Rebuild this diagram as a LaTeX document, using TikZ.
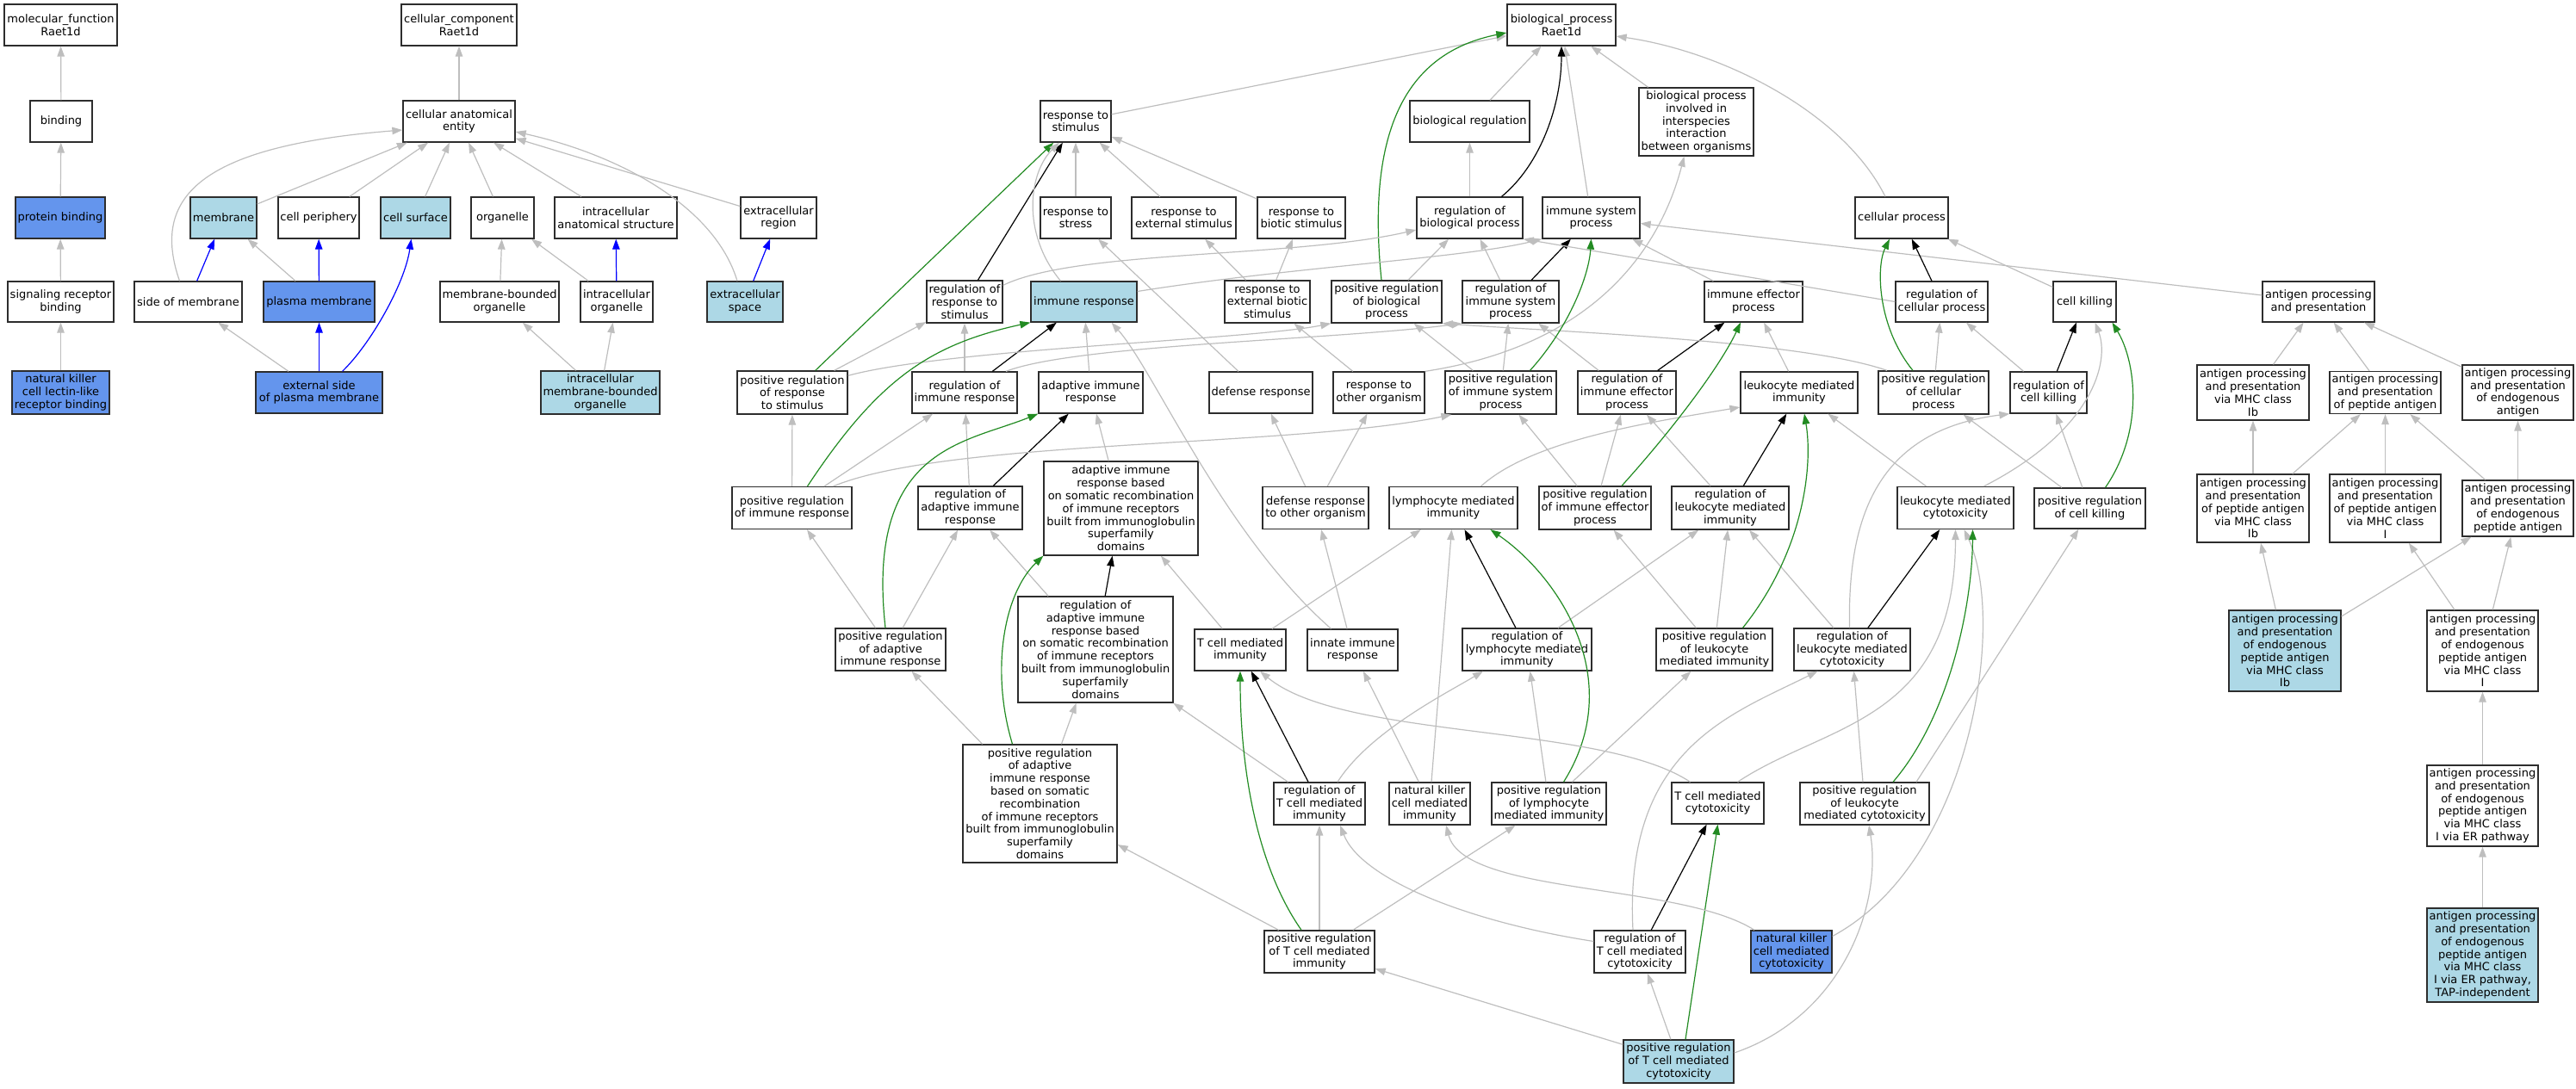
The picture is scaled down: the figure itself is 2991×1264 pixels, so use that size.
\documentclass[tikz,border=0pt]{standalone}
\usepackage{fontspec}
\setmainfont{DejaVu Sans}
\usepackage{tikz}
\definecolor{isacol}{RGB}{190,190,190}
\definecolor{posregcol}{RGB}{34,139,34}
\definecolor{termline}{RGB}{45,45,45}
\definecolor{annotlight}{RGB}{173,216,230}
\definecolor{annotstrong}{RGB}{100,149,237}
\usetikzlibrary{arrows.meta}
\tikzset{
	>={Triangle[length=12pt,width=8.5pt]},
	term/.style={draw=termline, line width=1.3pt, fill=white, inner sep=0pt, align=center, font=\fontsize{13}{14.8}\selectfont},
	termlight/.style={term, fill=annotlight},
	termstrong/.style={term, fill=annotstrong},
	isa/.style={->, draw=isacol, line width=1.2pt},
	partof/.style={->, draw=blue, line width=1.2pt},
	regulates/.style={->, draw=black, line width=1.2pt},
	posreg/.style={->, draw=posregcol, line width=1.2pt}
}

\begin{document}
\begin{tikzpicture}[x=1pt, y=-1pt]
	\useasboundingbox (0,0) rectangle (2991,1264);
	\foreach \n/\x/\y/\w/\h/\t in {
		mf/70.5/29/131/48/{molecular\_function\\Raet1d},
		cc/533/29/134/48/{cellular\_component\\Raet1d},
		bp/1813/29/126/48/{biological\_process\\Raet1d},
		binding/71/141/72/48/{binding},
		cae/533/141/130/48/{cellular anatomical\\entity},
		rts/1249/141/82/48/{response to\\stimulus},
		breg/1706.5/141/139/48/{biological regulation},
		bpii/1969.5/141.5/133/79/{biological process\\involved in\\interspecies\\interaction\\between organisms},
		cper/370/253/94/48/{cell periphery},
		org/583.5/253/73/48/{organelle},
		ias/715/253/142/48/{intracellular\\anatomical structure},
		ecr/904/253/88/48/{extracellular\\region},
		rstress/1249/253/82/48/{response to\\stress},
		rext/1374.5/253/121/48/{response to\\external stimulus},
		rbio/1511/253/102/48/{response to\\biotic stimulus},
		rbp/1706.5/253/123/48/{regulation of\\biological process},
		isp/1847.5/253/113/48/{immune system\\process},
		cp/2208/253/108/48/{cellular process},
		srb/70.5/350.5/123/47/{signaling receptor\\binding},
		som/218.5/350.5/125/47/{side of membrane},
		mbo/580/350.5/138/47/{membrane-bounded\\organelle},
		io/716/350.5/84/47/{intracellular\\organelle},
		rrts/1120/350.5/88/49/{regulation of\\response to\\stimulus},
		rebs/1471.5/350.5/99/49/{response to\\external biotic\\stimulus},
		prbp/1610/350.5/128/49/{positive regulation\\of biological\\process},
		risp/1754/350.5/112/49/{regulation of\\immune system\\process},
		ier/2036/350.5/114/47/{immune effector\\process},
		rcp/2254.5/350.5/107/47/{regulation of\\cellular process},
		ck/2420.5/350.5/73/47/{cell killing},
		apap/2692/350.5/130/47/{antigen processing\\and presentation},
		prrts/920/456/128/50/{positive regulation\\of response\\to stimulus},
		rir/1120/456/122/48/{regulation of\\immune response},
		air/1266.5/456/121/48/{adaptive immune\\response},
		dr/1464/456/120/48/{defense response},
		rtoo/1601/456/106/48/{response to\\other organism},
		prisp/1742.5/456/129/50/{positive regulation\\of immune system\\process},
		rier/1889/456/114/50/{regulation of\\immune effector\\process},
		lkmi/2089/456/136/48/{leukocyte mediated\\immunity},
		prcp/2245/456/128/50/{positive regulation\\of cellular\\process},
		rck/2378.5/456/89/48/{regulation of\\cell killing},
		apapIb/2616/456/130/64/{antigen processing\\and presentation\\via MHC class\\Ib},
		apappep/2769.5/456/129/49/{antigen processing\\and presentation\\of peptide antigen},
		apapendo/2923.5/456/129/64/{antigen processing\\and presentation\\of endogenous\\antigen},
		prir/919.5/590/139/49/{positive regulation\\of immune response},
		rair/1126.5/590/121/50/{regulation of\\adaptive immune\\response},
		aircs/1301.5/590.5/179/109/{adaptive immune\\response based\\on somatic recombination\\of immune receptors\\built from immunoglobulin\\superfamily\\domains},
		drtoo/1527.5/590/123/49/{defense response\\to other organism},
		lymi/1687.5/590/149/49/{lymphocyte mediated\\immunity},
		prier/1852/590/130/50/{positive regulation\\of immune effector\\process},
		rlkmi/2009/590/136/50/{regulation of\\leukocyte mediated\\immunity},
		lmc/2270.5/590/135/49/{leukocyte mediated\\cytotoxicity},
		prck/2426.5/590.5/129/47/{positive regulation\\of cell killing},
		apappepIb/2616/590.5/130/79/{antigen processing\\and presentation\\of peptide antigen\\via MHC class\\Ib},
		apappepI/2769.5/590.5/129/79/{antigen processing\\and presentation\\of peptide antigen\\via MHC class\\I},
		apapendopep/2923.5/590.5/129/65/{antigen processing\\and presentation\\of endogenous\\peptide antigen},
		prair/1034/754.5/128/49/{positive regulation\\of adaptive\\immune response},
		raircs/1272/754.5/180/123/{regulation of\\adaptive immune\\response based\\on somatic recombination\\of immune receptors\\built from immunoglobulin\\superfamily\\domains},
		tcmi/1440/755/106/48/{T cell mediated\\immunity},
		innate/1570.5/755/105/48/{innate immune\\response},
		rlymi/1773/754.5/150/49/{regulation of\\lymphocyte mediated\\immunity},
		prlkmi/1990.5/754.5/135/49/{positive regulation\\of leukocyte\\mediated immunity},
		rlmc/2150.5/754.5/135/49/{regulation of\\leukocyte mediated\\cytotoxicity},
		apapendoI/2882.5/756/129/94/{antigen processing\\and presentation\\of endogenous\\peptide antigen\\via MHC class\\I},
		praircs/1207.5/933.5/179/137/{positive regulation\\of adaptive\\immune response\\based on somatic\\recombination\\of immune receptors\\built from immunoglobulin\\superfamily\\domains},
		rtcmi/1532/933.5/106/49/{regulation of\\T cell mediated\\immunity},
		nkcmi/1660/933.5/94/49/{natural killer\\cell mediated\\immunity},
		prlymi/1798.5/933.5/133/49/{positive regulation\\of lymphocyte\\mediated immunity},
		tcmc/1994.5/933/107/48/{T cell mediated\\cytotoxicity},
		prlmc/2165/933.5/150/49/{positive regulation\\of leukocyte\\mediated cytotoxicity},
		er/2882.5/936/129/94/{antigen processing\\and presentation\\of endogenous\\peptide antigen\\via MHC class\\I via ER pathway},
		prtcmi/1532/1105.5/128/49/{positive regulation\\of T cell mediated\\immunity},
		rtcmc/1904/1105.5/106/49/{regulation of\\T cell mediated\\cytotoxicity}} {
		\node[term, minimum width=\w, minimum height=\h] (\n) at (\x,\y) {\t};
	}
	\foreach \n/\x/\y/\w/\h/\t in {
		mem/259.5/253/77/48/{membrane},
		csurf/482.5/253/81/48/{cell surface},
		ecs/865/350.5/88/47/{extracellular\\space},
		ir/1258.5/350.5/123/47/{immune response},
		imbo/697/456/138/50/{intracellular\\membrane-bounded\\organelle},
		apapendoIb/2653/756/130/94/{antigen processing\\and presentation\\of endogenous\\peptide antigen\\via MHC class\\Ib},
		tap/2882.5/1109.5/129/109/{antigen processing\\and presentation\\of endogenous\\peptide antigen\\via MHC class\\I via ER pathway,\\TAP-independent},
		prtcmc/1949/1233/128/50/{positive regulation\\of T cell mediated\\cytotoxicity}} {
		\node[termlight, minimum width=\w, minimum height=\h] (\n) at (\x,\y) {\t};
	}
	\foreach \n/\x/\y/\w/\h/\t in {
		pb/70/253/104/48/{protein binding},
		pm/370.5/350.5/129/47/{plasma membrane},
		nkl/70.5/456/113/50/{natural killer\\cell lectin-like\\receptor binding},
		esopm/370.5/456/147/48/{external side\\of plasma membrane},
		nkcmc/2080/1105.5/94/49/{natural killer\\cell mediated\\cytotoxicity}} {
		\node[termstrong, minimum width=\w, minimum height=\h] (\n) at (\x,\y) {\t};
	}
	\foreach \a/\b in {binding/mf, pb/binding, srb/pb, nkl/srb,
		cae/cc, mem/cae, cper/cae, csurf/cae, org/cae, ias/cae, ecr/cae, pm/mem, esopm/som,
		mbo/org, io/org, imbo/mbo, imbo/io,
		rts/bp, breg/bp, isp/bp, bpii/bp, rbp/breg, rstress/rts, rext/rts, rbio/rts,
		rebs/rext, rebs/rbio, prbp/rbp, risp/rbp, ier/isp, ck/cp, apap/isp,
		prrts/rrts, rir/rrts, air/ir, dr/rstress, rtoo/rebs, prisp/risp, prisp/prbp, rier/risp,
		lkmi/ier, prcp/rcp, rck/rcp, apapIb/apap, apappep/apap, apapendo/apap,
		prir/prrts, prir/rir, rair/rir, aircs/air, drtoo/dr, drtoo/rtoo, prier/prisp, prier/rier,
		rlkmi/rier, lmc/lkmi, prck/rck, prck/prcp,
		apappepIb/apapIb, apappepIb/apappep, apappepI/apappep, apapendopep/apappep, apapendopep/apapendo,
		prair/prir, prair/rair, raircs/rair, tcmi/aircs, tcmi/lymi, innate/drtoo,
		rlymi/rlkmi, prlkmi/rlkmi, prlkmi/prier, rlmc/rlkmi,
		apapendoIb/apappepIb, apapendoIb/apapendopep, apapendoI/apappepI, apapendoI/apapendopep,
		praircs/prair, praircs/raircs, rtcmi/raircs, nkcmi/lymi, nkcmi/innate,
		prlymi/rlymi, prlymi/prlkmi, prlmc/rlmc, er/apapendoI, tap/er,
		prtcmi/praircs, prtcmi/rtcmi, prtcmi/prlymi, prtcmc/rtcmc, prtcmc/prtcmi} {
		\draw[isa] (\a) -- (\b);
	}
	\foreach \a/\b in {som/mem, pm/cper, esopm/pm, io/ias, ecs/ecr} {
		\draw[partof] (\a) -- (\b);
	}
	\foreach \a/\b in {rrts/rts, rir/ir, rair/air, raircs/aircs, risp/isp, rier/ier, rlkmi/lkmi,
		rcp/cp, rck/ck, rlymi/lymi, rlmc/lmc, rtcmi/tcmi, rtcmc/tcmc} {
		\draw[regulates] (\a) -- (\b);
	}
	\draw[posreg] (prrts) -- (rts);
	\draw[posreg] ([xshift=8]prtcmc.north) -- (tcmc.south);

	\draw[isa] ([xshift=-10]som.north) .. controls (175,230) and (230,170) .. ([yshift=-10]cae.west);
	\draw[isa] ([xshift=-9]ecs.north) .. controls (830,240) and (720,180) .. ([yshift=-12]cae.east);
	\draw[partof] ([xshift=27]esopm.north) .. controls (430,400) and (470,330) .. ([xshift=-5]csurf.south);
	\draw[posreg] ([xshift=-6]prbp.north) .. controls (1585,140) and (1640,60) .. ([yshift=-9]bp.west);
	\draw[regulates] ([xshift=37]rbp.north) .. controls (1790,190) and (1813,120) .. (bp.south);
	\draw[isa] ([xshift=-19]cp.north) .. controls (2140,130) and (2000,60) .. ([yshift=-13]bp.east);
	\draw[isa] ([yshift=-6]rrts.north east) .. controls (1250,290) and (1500,300) .. ([yshift=-14]rbp.west);
	\draw[isa] ([xshift=-27]ir.north) .. controls (1185,270) and (1195,200) .. ([xshift=-19]rts.south);
	\draw[isa] ([yshift=12]ir.east) .. controls (1500,310) and (1700,300) .. (isp.south west);
	\draw[isa] (rcp.west) -- (rbp.south east);
	\draw[posreg] ([xshift=-24]prcp.north) .. controls (2180,380) and (2178,310) .. ([xshift=-14]cp.south);
	\draw[isa] ([xshift=-54]prcp.north) .. controls (2090,395) and (1800,385) .. (prbp.south east);
	\draw[isa] ([xshift=48]rir.north) .. controls (1250,400) and (1550,395) .. (risp.south west);
	\draw[isa] ([yshift=-6]prrts.north east) .. controls (1100,405) and (1450,395) .. (prbp.south west);
	\draw[isa] (rtoo.north east) .. controls (1860,400) and (1930,280) .. ([xshift=-14]bpii.south);
	\draw[isa] ([xshift=-25]innate.north) .. controls (1420,620) and (1340,430) .. ([xshift=32]ir.south);
	\draw[isa] ([xshift=32]lymi.north) .. controls (1780,510) and (1920,490) .. ([yshift=-17]lkmi.west);
	\draw[isa] ([xshift=48]prir.north) .. controls (1100,510) and (1500,520) .. ([xshift=8]prisp.south west);
	\draw[posreg] ([xshift=33]prlkmi.north) .. controls (2095,640) and (2105,540) .. ([xshift=6]lkmi.south);
	\draw[posreg] ([xshift=17]prlymi.north) .. controls (1890,790) and (1810,670) .. ([xshift=43]lymi.south);
	\draw[isa] ([xshift=33]lmc.north) .. controls (2430,500) and (2450,420) .. ([xshift=12]ck.south);
	\draw[posreg] ([xshift=18]prck.north) .. controls (2490,500) and (2480,420) .. ([xshift=32]ck.south);
	\draw[isa] ([xshift=-3]rlmc.north) .. controls (2145,600) and (2180,500) .. (rck.south west);
	\draw[isa] ([yshift=18]nkcmc.east) .. controls (2290,1000) and (2330,720) .. ([xshift=10]lmc.south);
	\draw[isa] ([xshift=23]tcmc.north) .. controls (2120,840) and (2270,840) .. (lmc.south);
	\draw[isa] ([xshift=-8]rtcmc.north) .. controls (1885,870) and (2010,830) .. ([xshift=-40]rlmc.south);
	\draw[isa] ([yshift=12]rtcmc.west) .. controls (1700,1070) and (1580,1020) .. ([xshift=24]rtcmi.south);
	\draw[isa] ([xshift=-43]nkcmc.north) .. controls (1950,1025) and (1700,1040) .. ([xshift=19]nkcmi.south);
	\draw[isa] ([xshift=-32]tcmc.north) .. controls (1860,840) and (1560,860) .. ([xshift=23]tcmi.south);
	\draw[isa] ([yshift=10]prtcmc.east) .. controls (2140,1180) and (2185,1050) .. ([xshift=5]prlmc.south);
	\draw[posreg] ([xshift=-21]prtcmi.north) .. controls (1455,1000) and (1440,880) .. (tcmi.south);
	\draw[isa] ([xshift=21]rtcmi.north) .. controls (1590,850) and (1680,805) .. ([xshift=-51]rlymi.south);
	\draw[posreg] ([xshift=-32]praircs.north) .. controls (1150,780) and (1165,690) .. (aircs.south west);
	\draw[posreg] ([xshift=-6]prair.north) .. controls (1005,520) and (1120,515) .. (air.south west);
	\draw[posreg] ([xshift=18]prir.north) .. controls (1020,440) and (1080,400) .. (ir.south west);
	\draw[posreg] ([xshift=34]prisp.north) .. controls (1822,380) and (1845,320) .. (isp.south);
	\draw[posreg] ([xshift=31]prier.north) .. controls (1950,490) and (2000,420) .. ([xshift=-15]ier.south);
	\draw[posreg] ([xshift=33]prlmc.north) .. controls (2265,830) and (2290,700) .. ([xshift=20]lmc.south);
	\draw[isa] ([xshift=60]prlmc.north) -- ([xshift=-13]prck.south);
\end{tikzpicture}
\end{document}
